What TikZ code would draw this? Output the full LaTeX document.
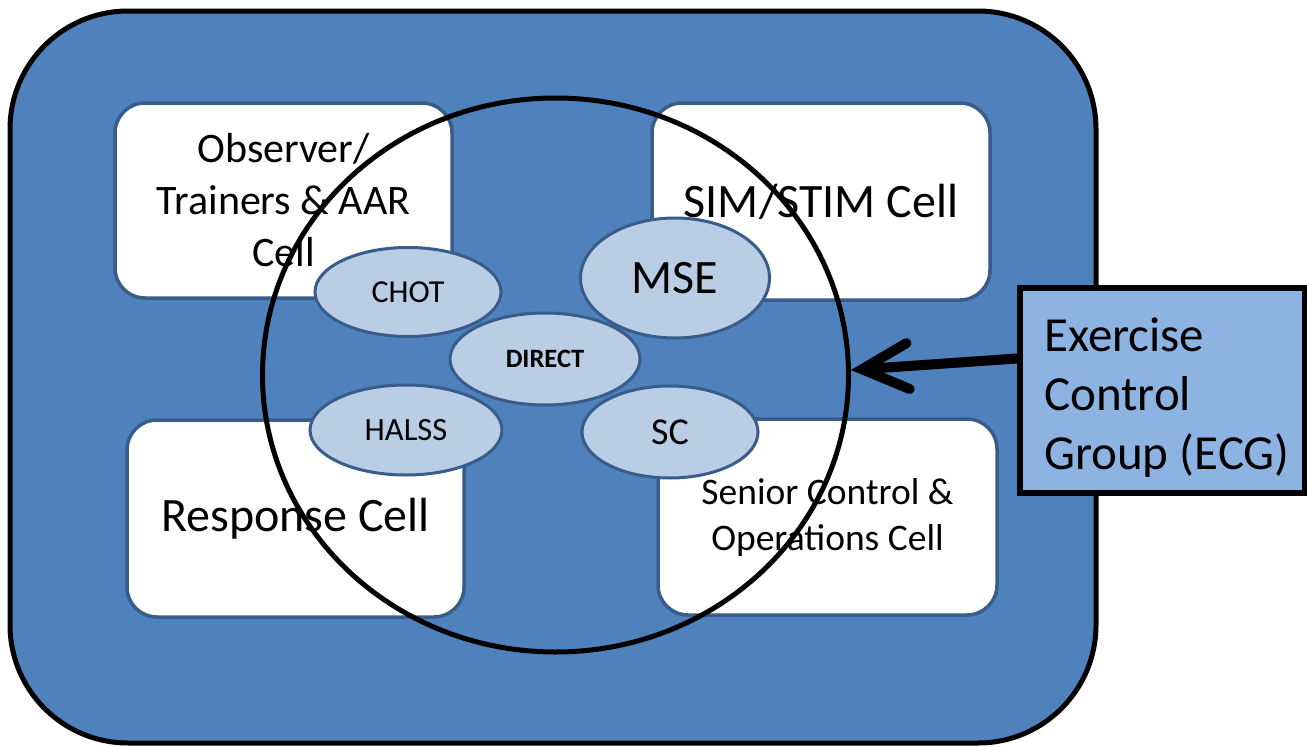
\documentclass[tikz,border=0pt]{standalone}
\usepackage{fontspec}
\setmainfont{Carlito}
\usetikzlibrary{shapes.geometric,arrows.meta}
\definecolor{outerblue}{HTML}{4F81BD}
\definecolor{edgeblue}{HTML}{385D8A}
\definecolor{lightblue}{HTML}{B9CDE5}
\definecolor{ecgblue}{HTML}{8DB3E2}
\tikzset{
  cellbox/.style={draw=edgeblue, line width=3.5pt, fill=white, rounded corners=30pt, align=center, inner sep=0pt},
  oval/.style={ellipse, draw=edgeblue, line width=3pt, fill=lightblue, inner sep=0pt},
}
\begin{document}
\begin{tikzpicture}[x=1pt,y=-1pt]
\useasboundingbox (0,0) rectangle (1307,747);
\node[draw=black, line width=5pt, fill=outerblue, rounded corners=118pt, minimum width=1086pt, minimum height=732pt, inner sep=0pt] (outer) at (553,377) {};
\node[cellbox, minimum width=337pt, minimum height=195pt, font=\fontsize{42}{52}\selectfont] (obs) at (283.5,200.5) {Observer/\\Trainers \& AAR\\Cell};
\node[cellbox, minimum width=338pt, minimum height=197pt, font=\fontsize{48}{51}\selectfont] (sim) at (821,201.5) {SIM/STIM Cell};
\node[cellbox, minimum width=337pt, minimum height=197pt, font=\fontsize{48}{51}\selectfont] (resp) at (295.5,518.5) {Response Cell};
\node[cellbox, minimum width=339pt, minimum height=196pt, font=\fontsize{37.5}{46}\selectfont] (senior) at (827.5,517) {Senior Control \&\\Operations Cell};
\node[ellipse, draw=black, line width=5pt, minimum width=586pt, minimum height=554pt, inner sep=0pt] (ring) at (555.5,375) {};
\node[oval, minimum width=186pt, minimum height=89pt, font=\fontsize{32}{36}\selectfont] (chot) at (408,292) {CHOT};
\node[oval, minimum width=189pt, minimum height=120pt, font=\fontsize{48}{52}\selectfont] (mse) at (675,278) {MSE};
\node[oval, minimum width=190pt, minimum height=92pt, font=\fontsize{26.5}{30}\selectfont\bfseries] (direct) at (545,359) {DIRECT};
\node[oval, minimum width=192pt, minimum height=90pt, font=\fontsize{32.5}{36}\selectfont] (halss) at (406,430) {HALSS};
\node[oval, minimum width=176pt, minimum height=92pt, font=\fontsize{38}{42}\selectfont] (sc) at (670,432) {SC};
\node[draw=black, line width=6pt, fill=ecgblue, minimum width=285pt, minimum height=205pt, inner sep=0pt] (ecg) at (1162.5,390.5) {};
\node[anchor=west, inner sep=0pt, align=left, font=\fontsize{49}{59}\selectfont] (ecgtext) at (1044,398) {Exercise\\Control\\Group (ECG)};
\coordinate (tip) at ([yshift=5pt]ring.east);
\draw[line width=10pt, line cap=round, -{Straight Barb[length=46pt, width=46pt, line cap=round]}] ([yshift=32pt]ecg.west) -- (tip);
\end{tikzpicture}
\end{document}
